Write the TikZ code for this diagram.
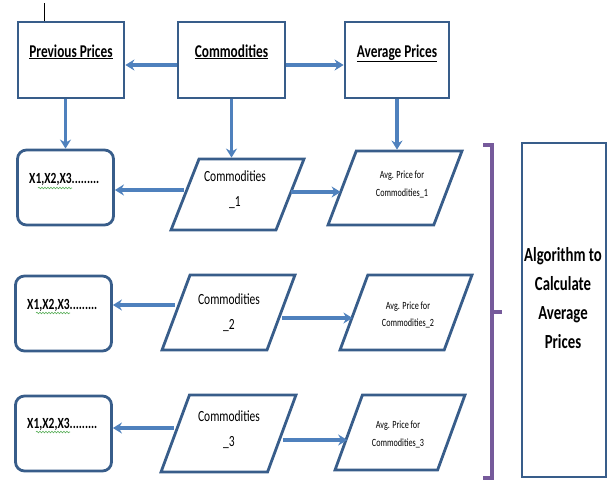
\documentclass[tikz,border=0pt]{standalone}
\usepackage{fontspec}
\setmainfont{Carlito}
\newfontfamily\narrowfont[FakeStretch=0.74]{Carlito}
\usetikzlibrary{arrows.meta,shapes.geometric,decorations.pathmorphing}
\definecolor{boxc}{RGB}{56,93,138}
\definecolor{arrc}{RGB}{79,129,189}
\definecolor{brkc}{RGB}{118,90,155}
\definecolor{spellc}{RGB}{90,175,90}
\begin{document}
\begin{tikzpicture}[x=1pt,y=-1pt,
  frame/.style={draw=boxc,line width=2.8pt,fill=white,inner sep=0pt},
  topbox/.style={frame,minimum height=76pt},
  xbox/.style={frame,rounded corners=9pt,minimum width=96pt,minimum height=75pt},
  para/.style={frame,trapezium,trapezium left angle=70,trapezium right angle=110,
    trapezium stretches=true,inner sep=3pt},
  comtext/.style={font={\narrowfont\fontsize{15.5}{25}\selectfont},align=center,inner sep=0pt},
  avgtext/.style={font={\narrowfont\fontsize{11}{17.5}\selectfont},align=center,inner sep=0pt},
  toplabel/.style={font={\narrowfont\bfseries\fontsize{18}{20}\selectfont},anchor=base},
  xtext/.style={font={\narrowfont\bfseries\fontsize{15.5}{18}\selectfont},anchor=base west,inner sep=0pt},
  algtext/.style={font={\narrowfont\bfseries\fontsize{20}{29}\selectfont},align=center},
  arr/.style={draw=arrc,line width=3.2pt,-{Stealth[length=9pt,width=11pt]}},
  spell/.style={draw=spellc,line width=0.6pt,decorate,decoration={snake,amplitude=0.8pt,segment length=3pt}},
  brk/.style={draw=brkc,line width=3.2pt},
]
\useasboundingbox (0,0) rectangle (609,480);

% small mark at the top
\draw[black,line width=0.8pt] (44,3) -- (44,25);

% top boxes
\node[topbox,minimum width=106pt] (pp) at (71,60) {};
\node[topbox,minimum width=107pt] (cm) at (231.5,60) {};
\node[topbox,minimum width=104pt] (ap) at (397,60) {};
\node[toplabel] (ppt) at (71,57) {\underline{Previous Prices}};
\node[toplabel] (cmt) at (231.5,57) {\underline{Commodities}};
\node[toplabel] (apt) at (397,57) {\underline{Average Prices}};

% value boxes
\node[xbox] (x1) at (65.5,187.5) {};
\node[xbox] (x2) at (63.5,313.5) {};
\node[xbox] (x3) at (63.5,433.5) {};
\node[xtext] (xt1) at (29,183) {X1,X2,X3.........};
\node[xtext] (xt2) at (27,309) {X1,X2,X3.........};
\node[xtext] (xt3) at (27,428) {X1,X2,X3.........};
\draw[spell] (38,188) -- (72,188);
\draw[spell] (36,313) -- (70,313);
\draw[spell] (36,432) -- (70,432);

% commodity parallelograms
\node[para,minimum width=133pt,minimum height=71pt] (c1) at (237.5,194.5) {};
\node[para,minimum width=133pt,minimum height=75pt] (c2) at (228.5,312.5) {};
\node[para,minimum width=135pt,minimum height=77pt] (c3) at (228.5,433.5) {};
\node[comtext] (c1t) at (235,189.5) {Commodities\\\_1};
\node[comtext] (c2t) at (229,312.5) {Commodities\\\_2};
\node[comtext] (c3t) at (229,430) {Commodities\\\_3};

% average parallelograms
\node[para,minimum width=134pt,minimum height=74pt] (a1) at (395,188) {};
\node[para,minimum width=132pt,minimum height=75pt] (a2) at (406,312.5) {};
\node[para,minimum width=130pt,minimum height=75pt] (a3) at (400,432.5) {};
\node[avgtext] (a1t) at (402,184.5) {Avg. Price for\\Commodities\_1};
\node[avgtext] (a2t) at (408,315) {Avg. Price for\\Commodities\_2};
\node[avgtext] (a3t) at (398,434.5) {Avg. Price for\\Commodities\_3};

% algorithm box
\node[frame,minimum width=84pt,minimum height=334pt] (alg) at (564,310) {};
\node[algtext] (algt) at (563,298) {Algorithm to\\Calculate\\Average\\Prices};

% bracket
\draw[brk] (483,145) -- (492,145) -- (492,478) -- (483,478);
\draw[brk] (492,312) -- (502,312);

% top arrows
\coordinate (cml) at ([yshift=-5pt]cm.west);
\coordinate (cmr) at ([yshift=-5pt]cm.east);
\draw[arr] (cml) -- (cml -| pp.east);
\draw[arr] (cmr) -- (cmr -| ap.west);
\draw[arr] (pp.south -| x1.north) -- (x1.north);
\draw[arr] (cm.south) -- (cm.south |- c1.north);
\draw[arr] (ap.south) -- (ap.south |- a1.north);

% row arrows
\coordinate (c1l) at ([yshift=4.5pt]c1.west);
\coordinate (c1r) at ([yshift=2.5pt]c1.east);
\draw[arr] (c1l) -- (c1l -| x1.east);
\draw[arr] (c1r) -- (c1r -| a1.west);
\coordinate (c2l) at ([yshift=7.5pt]c2.west);
\coordinate (c2r) at ([yshift=-5.5pt]c2.east);
\draw[arr] (c2l) -- (c2l -| x2.east);
\draw[arr] (c2r) -- (c2r -| a2.west);
\coordinate (c3l) at ([yshift=5.5pt]c3.west);
\coordinate (c3r) at ([yshift=-6.5pt]c3.east);
\draw[arr] (c3l) -- (c3l -| x3.east);
\draw[arr] (c3r) -- (c3r -| a3.west);
\end{tikzpicture}
\end{document}
